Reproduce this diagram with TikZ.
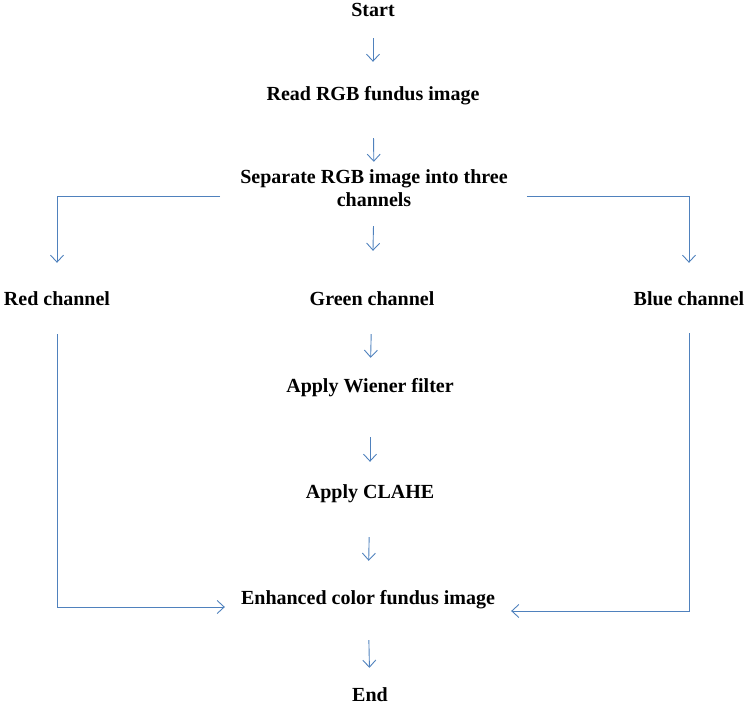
\documentclass[tikz,border=0pt]{standalone}
\usepackage{fontspec}
\setmainfont{Liberation Serif}
\usetikzlibrary{arrows.meta}
\definecolor{arrblue}{HTML}{4F81BD}
\begin{document}
\begin{tikzpicture}[x=1pt,y=-1pt,
  lbl/.style={font=\bfseries\fontsize{20}{23}\selectfont, inner sep=0pt, text height=14.5pt, text depth=1.5pt, anchor=center},
  arr/.style={draw=arrblue, line width=0.9pt, -{Straight Barb[length=7pt,width=13pt]}}]
\useasboundingbox (0,0) rectangle (749,711);
\node[lbl] (start) at (373,10) {Start};
\node[lbl] (read) at (373,94) {Read RGB fundus image};
\node[lbl] (sepA) at (374,177) {Separate RGB image into three};
\node[lbl] (sepB) at (374,200) {channels};
\node[lbl] (red) at (57,299) {Red channel};
\node[lbl] (green) at (372,299) {Green channel};
\node[lbl] (blue) at (689,299) {Blue channel};
\node[lbl] (wiener) at (370,386) {Apply Wiener filter};
\node[lbl] (clahe) at (370,492) {Apply CLAHE};
\node[lbl] (enh) at (368,598) {Enhanced color fundus image};
\node[lbl] (end) at (370,695) {End};

\draw[arr, shorten <=20pt, shorten >=24pt] (start) -- (read);
\draw[arr, shorten <=36pt, shorten >=7pt] (read) -- (sepA);
\draw[arr, shorten <=18pt, shorten >=40pt] (sepB) -- (green);
\draw[arr, shorten <=27pt, shorten >=20pt] (green) -- (wiener);
\draw[arr, shorten <=43pt, shorten >=22pt] (wiener) -- (clahe);
\draw[arr, shorten <=37pt, shorten >=29pt] (clahe) -- (enh);
\draw[arr, shorten <=34pt, shorten >=19pt] (enh) -- (end);

\draw[arr, shorten >=28pt] ([shift={(-20pt,4pt)}]sepA.west |- sepB.center) -| (red.north);
\draw[arr, shorten >=28pt] ([shift={(19pt,4pt)}]sepA.east |- sepB.center) -| (blue.north);

\draw[arr, shorten <=27pt, shorten >=16pt] (red.south) |- ([yshift=-9pt]enh.west);
\draw[arr, shorten <=26pt, shorten >=16pt] (blue.south) |- ([yshift=-13pt]enh.east);
\end{tikzpicture}
\end{document}
